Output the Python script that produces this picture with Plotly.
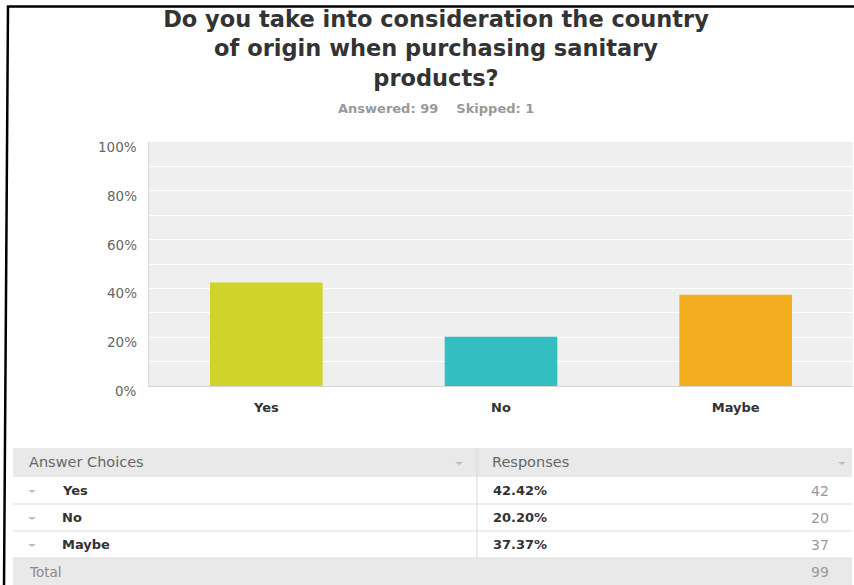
import plotly.graph_objects as go

# ---------------- data ----------------
question = "Do you take into consideration the country<br>of origin when purchasing sanitary<br>products?"
answered = 99
skipped = 1
choices = ["Yes", "No", "Maybe"]
percentages = [42.42, 20.20, 37.37]
counts = [42, 20, 37]
total = 99
bar_colors = ["#cfd32a", "#33bec0", "#f5ad20"]
y_ticks = [0, 20, 40, 60, 80, 100]

# ---------------- geometry (pixels) ----------------
W, H = 854, 585
PL, PR, PT, PB = 149, 853, 142, 386   # plot area in pixels
FONT = "DejaVu Sans"


def px(x):
    return (x - PL) / (PR - PL)


def py(y):
    return (PB - y) / (PB - PT)


fig = go.Figure()
fig.add_trace(go.Bar(
    x=choices,
    y=[p / 100 for p in percentages],
    marker=dict(color=bar_colors, line=dict(width=0)),
    hoverinfo="skip",
))

shapes = []
annotations = []

# y tick labels (slightly below gridlines, like the reference)
for v in y_ticks:
    annotations.append(dict(
        x=0, y=v / 100, xref="paper", yref="y", text=f"{v}%",
        xanchor="right", yanchor="middle", xshift=-10, yshift=-5,
        showarrow=False, font=dict(family=FONT, size=13.5, color="#666666"),
    ))

# subtitle
annotations.append(dict(
    x=px(436), y=py(109), xref="paper", yref="paper",
    text=f"Answered: {answered}&nbsp;&nbsp;&nbsp;&nbsp;Skipped: {skipped}",
    xanchor="center", yanchor="middle", showarrow=False,
    font=dict(family=FONT, size=13, color="#999999", weight="bold"),
))

# ---------------- table ----------------
TL, TR, TDIV = 13, 852, 477
header_top, row_h = 448, 27
header_bot = 477
row_tops = [header_bot + i * row_h for i in range(len(choices))]
total_top = header_bot + len(choices) * row_h
total_bot = total_top + row_h + 1

# header and total backgrounds
for y0, y1 in [(header_top, header_bot), (total_top, total_bot)]:
    shapes.append(dict(type="rect", xref="paper", yref="paper",
                       x0=px(TL), x1=px(TR), y0=py(y1), y1=py(y0),
                       fillcolor="#e9e9e9", line=dict(width=0), layer="below"))
# row separators
for yy in row_tops[1:] + [total_top]:
    shapes.append(dict(type="line", xref="paper", yref="paper",
                       x0=px(TL), x1=px(TR), y0=py(yy), y1=py(yy),
                       line=dict(color="#dddddd", width=1)))
# column divider
shapes.append(dict(type="line", xref="paper", yref="paper",
                   x0=px(TDIV), x1=px(TDIV), y0=py(header_top), y1=py(total_top),
                   line=dict(color="#d8d8d8", width=1)))


def tri(cx, cy, w=4, h=3, color="#bdbdbd"):
    return dict(type="path", xref="paper", yref="paper",
                path=f"M {px(cx - w)},{py(cy - h / 2)} L {px(cx + w)},{py(cy - h / 2)} "
                     f"L {px(cx)},{py(cy + h / 2)} Z",
                fillcolor=color, line=dict(width=0))


hy = (header_top + header_bot) / 2
shapes.append(tri(459, hy + 1))
shapes.append(tri(842, hy + 1))

annotations.append(dict(x=px(27), y=py(hy), xref="paper", yref="paper",
                        text="Answer Choices", xanchor="left", yanchor="middle",
                        showarrow=False, font=dict(family=FONT, size=14.5, color="#666666")))
annotations.append(dict(x=px(490), y=py(hy), xref="paper", yref="paper",
                        text="Responses", xanchor="left", yanchor="middle",
                        showarrow=False, font=dict(family=FONT, size=14.5, color="#666666")))

for i, (c, p, n) in enumerate(zip(choices, percentages, counts)):
    cy = row_tops[i] + row_h / 2
    shapes.append(tri(32, cy + 1))
    annotations.append(dict(x=px(60), y=py(cy), xref="paper", yref="paper",
                            text=c, xanchor="left", yanchor="middle", showarrow=False,
                            font=dict(family=FONT, size=13, color="#333333", weight="bold")))
    annotations.append(dict(x=px(491), y=py(cy), xref="paper", yref="paper",
                            text=f"{p:.2f}%", xanchor="left", yanchor="middle", showarrow=False,
                            font=dict(family=FONT, size=13, color="#333333", weight="bold")))
    annotations.append(dict(x=px(831), y=py(cy), xref="paper", yref="paper",
                            text=str(n), xanchor="right", yanchor="middle", showarrow=False,
                            font=dict(family=FONT, size=14, color="#999999")))

ty = total_top + row_h / 2
annotations.append(dict(x=px(27), y=py(ty), xref="paper", yref="paper",
                        text="Total", xanchor="left", yanchor="middle", showarrow=False,
                        font=dict(family=FONT, size=13.5, color="#888888")))
annotations.append(dict(x=px(831), y=py(ty), xref="paper", yref="paper",
                        text=str(total), xanchor="right", yanchor="middle", showarrow=False,
                        font=dict(family=FONT, size=14, color="#999999")))

# black frame (top and left edges of the screenshot)
shapes.append(dict(type="path", xref="paper", yref="paper",
                   path=f"M {px(4)},{py(586)} L {px(8)},{py(6.5)} L {px(856)},{py(6.5)}",
                   line=dict(color="#000000", width=2.5)))

fig.update_layout(
    width=W, height=H,
    margin=dict(l=PL, r=W - PR, t=PT, b=H - PB, pad=0),
    paper_bgcolor="#ffffff",
    plot_bgcolor="#efefef",
    bargap=0.52,
    showlegend=False,
    title=dict(
        text=question,
        x=436 / W, xanchor="center", xref="container",
        y=1 - 27 / H, yanchor="top", yref="container",
        font=dict(family=FONT, size=22.5, color="#333333", weight="bold"),
    ),
    xaxis=dict(
        showgrid=False, showline=True, linecolor="#d4d4d4", linewidth=1,
        ticks="", ticklabelstandoff=9, fixedrange=True,
        tickfont=dict(family=FONT, size=13, color="#333333", weight="bold"),
    ),
    yaxis=dict(
        range=[0, 1], tickvals=[v / 100 for v in y_ticks], showticklabels=False,
        showgrid=True, gridcolor="#ffffff", gridwidth=1,
        minor=dict(dtick=0.1, showgrid=True, gridcolor="#ffffff", gridwidth=1),
        showline=True, linecolor="#d8d8d8", linewidth=1, zeroline=False,
        ticks="", fixedrange=True,
    ),
    shapes=shapes,
    annotations=annotations,
)

fig.write_html(
    "out.html",
    config={"displayModeBar": False},
    post_script="document.body.style.margin='0';document.body.style.overflow='hidden';",
)
